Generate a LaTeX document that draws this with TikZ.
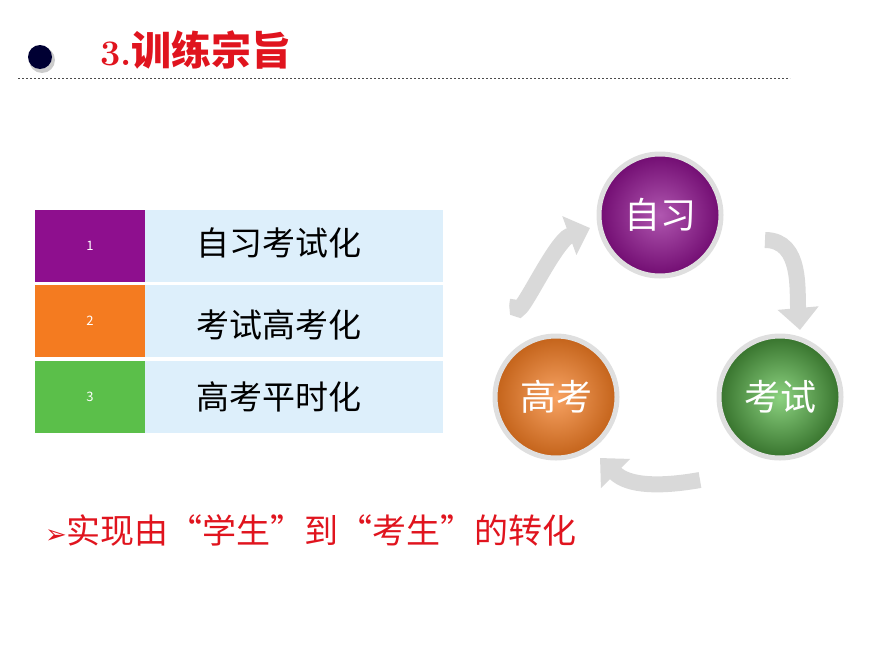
\documentclass[tikz,border=0pt]{standalone}
\usepackage{fontspec}
\newfontfamily\cjk{Noto Sans CJK SC}
\newfontfamily\dv{DejaVu Sans}
\usetikzlibrary{arrows.meta}
\definecolor{cpur}{HTML}{8E0F8E}
\definecolor{corg}{HTML}{F47B20}
\definecolor{cgrn}{HTML}{5BBF4A}
\definecolor{cblue}{HTML}{DDEFFB}
\definecolor{cred}{HTML}{E0141E}
\tikzset{
 numbox/.style={minimum width=110pt,minimum height=72pt,inner sep=0,text=white,font=\cjk\fontsize{13}{13}\selectfont},
 txtbox/.style={fill=cblue,minimum width=298pt,minimum height=72pt,inner sep=0},
 rowtext/.style={anchor=west,inner sep=0,font=\cjk\fontsize{33}{33}\selectfont},
 ball/.style={circle,minimum size=122pt,draw=gray!25,line width=5pt,text=white,font=\cjk\fontsize{36}{36}\selectfont},
 garrow/.style={gray!30,line width=16pt,-{Triangle[length=22pt,width=40pt]}}
}
\begin{document}
\begin{tikzpicture}[x=1pt,y=-1pt]
\useasboundingbox (0,0) rectangle (870,653);
\fill[gray!40] (42,60) circle (13);
\node[circle,fill=black!80!blue,minimum size=24pt,inner sep=0] (dot) at (40,57) {};
\node[anchor=west,text=cred,font=\cjk\bfseries\fontsize{40}{40}\selectfont,inner sep=0] (title) at (100,50) {{\rmfamily\bfseries\fontsize{36}{36}\selectfont 3.}训练宗旨};
\draw[dash pattern=on 2pt off 2pt,black!70,line width=0.8pt] (18,78) coordinate (l1) -- (790,78) coordinate (l2);
\node[numbox,fill=cpur] (n1) at (90,246) {1};
\node[numbox,fill=corg] (n2) at (90,321) {2};
\node[numbox,fill=cgrn] (n3) at (90,397) {3};
\node[txtbox] (t1) at (294,246) {};
\node[txtbox] (t2) at (294,321) {};
\node[txtbox] (t3) at (294,397) {};
\node[rowtext] (r1) at (196,243) {自习考试化};
\node[rowtext] (r2) at (196,325) {考试高考化};
\node[rowtext] (r3) at (196,397) {高考平时化};
\draw[garrow] (518,300) coordinate (a1) to[out=-100,in=200] (590,228) coordinate (a2);
\draw[garrow] (765,240) coordinate (b1) to[out=0,in=95] (800,330) coordinate (b2);
\draw[garrow] (700,480) coordinate (c1) to[out=190,in=-45] (600,458) coordinate (c2);
\node[ball,fill=cpur,inner color=cpur!70!white,outer color=cpur!80!black] (z) at (660,215) {自习};
\node[ball,fill=cgrn,inner color=cgrn!70!white,outer color=cgrn!60!black] (k) at (780,397) {考试};
\node[ball,fill=corg,inner color=corg!70!white,outer color=corg!80!black] (g) at (556,397) {高考};
\node[anchor=west,text=cred,font=\cjk\fontsize{34}{34}\selectfont,inner sep=0] (bot) at (45,530) {{\dv\fontsize{26}{26}\selectfont ➢}实现由“学生”到“考生”的转化};
\end{tikzpicture}
\end{document}
